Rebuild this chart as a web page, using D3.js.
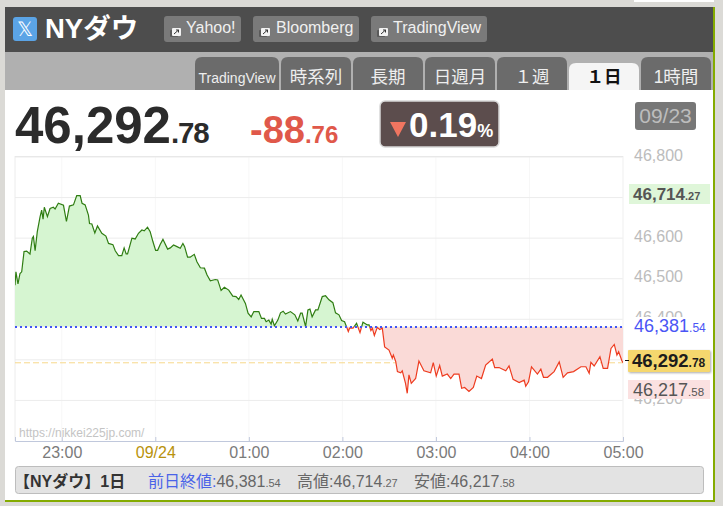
<!DOCTYPE html>
<html><head><meta charset="utf-8">
<script src="https://cdn.jsdelivr.net/npm/d3@7"></script>
<style>html,body{margin:0;padding:0;background:#dbdad6;overflow:hidden}
svg{display:block;font-family:"Liberation Sans","Noto Sans CJK JP",sans-serif}</style>
</head><body><div id="c"></div>
<script>
const minutes=[0,.6,1.9,3.2,4.3,5.8,7.5,9.6,11.1,11.8,12.9,14.3,16.1,17.1,18,18.8,20.8,22.5,24.6,25.7,27.8,31.1,33,34.9,37.5,39.6,41.8,43,45,47.1,47.8,49.3,51.2,52.9,55.7,58.3,60,62.8,64.3,66.4,68.5,70,71.3,72.2,73.5,75,77.1,79.2,81.4,82.9,85,86.7,88.5,90.2,91.5,93.2,94.9,97.9,99.6,101.7,103.9,106,107.7,108.8,110.7,112.4,115,116.7,118.9,121.5,123.2,125.3,128.5,130,132.2,134.3,137.1,139.7,141.8,143.5,145,147.8,149.5,151.5,153.2,156.4,158.1,160,161.1,162.8,164.3,165,166.4,168.6,170.3,172,173.5,176.7,179.5,181.4,183.2,184.2,186.4,187.9,189.2,190.6,192.8,194.3,197.1,199.2,201.4,203.9,205.6,207.8,209.5,211.4,213.8,214.6,216.8,219.1,221.3,223.2,226,227.1,228.3,229.2,230.5,232.4,233.9,235.6,237.1,239.9,242,242.7,244.2,245.3,247.4,248.4,250.5,251.6,252.7,254.2,257,259.1,262.3,266.6,268.3,270.2,272.4,274.1,277.3,279.5,281.6,284.8,286.5,288.4,291.2,294,296.2,299.2,301.9,306.2,307.7,310.5,314.8,316.9,319.5,323.4,326.6,327.6,329.4,331.3,335.1,337.3,339,341.6,345.8,349.1,351.6,354.4,358.3,363,366.2,368.3,369.4,371.5,375.2,377.3,380.1,382.3,384.4,386.1,387.2,389.3,390];
const prices=[46484,46517,46487,46513,46517,46567,46568,46561,46600,46604,46569,46616,46653,46669,46647,46676,46653,46673,46676,46672,46686,46681,46641,46679,46682,46705,46705,46686,46682,46657,46636,46635,46613,46630,46612,46605,46587,46584,46569,46557,46557,46576,46561,46561,46579,46600,46598,46612,46620,46618,46627,46616,46591,46570,46570,46585,46597,46573,46576,46583,46579,46575,46587,46579,46553,46553,46560,46542,46527,46526,46509,46495,46498,46497,46471,46479,46472,46457,46456,46449,46460,46439,46415,46406,46419,46419,46402,46402,46394,46398,46388,46400,46384,46398,46416,46420,46413,46419,46411,46396,46415,46415,46382,46423,46425,46406,46423,46423,46456,46458,46448,46441,46416,46411,46397,46394,46370,46378,46378,46390,46367,46393,46386,46386,46372,46378,46360,46380,46375,46378,46332,46324,46304,46312,46296,46271,46268,46273,46242,46217.58,46263,46242,46254,46297,46273,46268,46293,46260,46286,46260,46265,46254,46265,46265,46230,46232,46222,46232,46260,46254,46287,46302,46281,46281,46273,46285,46252,46244,46250,46235,46246,46283,46265,46277,46257,46257,46271,46295,46257,46268,46271,46283,46283,46267,46294,46285,46308,46279,46279,46328,46338,46312,46320,46298,46292.78];
const prevClose=46381.54, lastPrice=46292.78;
const yTicks=[46200,46300,46400,46500,46600,46700,46800];
const yLabels=[46800,46600,46500,46400,46200];
const xTickMinutes=[30,90,150,210,270,330,390];
const xTickLabels=["23:00","09/24","01:00","02:00","03:00","04:00","05:00"];
const tabs=["TradingView","時系列","長期","日週月","１週","１日","1時間"];
const links=["Yahoo!","Bloomberg","TradingView"];

const W=723,H=506;
const svg=d3.select("#c").append("svg").attr("width",W).attr("height",H);
const BODY='"Liberation Sans","Noto Sans CJK JP",sans-serif';
function rect(x,y,w,h,fill,rx,stroke){const r=svg.append("rect").attr("x",x).attr("y",y).attr("width",w).attr("height",h).attr("fill",fill);if(rx)r.attr("rx",rx);if(stroke)r.attr("stroke",stroke);return r;}
function text(x,y,parts,anchor,parent){
  const t=(parent||svg).append("text").attr("x",x).attr("y",y).attr("text-anchor",anchor||"start");
  parts.forEach(p=>t.append("tspan").text(p[0]).attr("font-size",p[1]).attr("fill",p[2]).attr("font-weight",p[3]||"normal").attr("letter-spacing",p[4]||null));
  return t;}
const fmt=d3.format(",");
function priceParts(v,s1,s2,c,w,c2){const [a,b]=v.toFixed(2).split(".");return [[fmt(+a),s1,c,w],["."+b,s2,c2||c,w]];}

// page panels
rect(0,0,W,H,"#dbdad6");
rect(634,0,80,2,"#ffffff");
rect(5,7,710,495,"#84ab00");
rect(5,7,708,493,"#ffffff");
rect(5,7,708,45,"#4d4d4d");
rect(5,52,708,38,"#b0b0b0");

// header
rect(13,17,24,24,"#5ba4e6",3);
text(25,36,[["𝕏",20,"#ffffff"]],"middle");
text(45,38,[["NYダウ",27.5,"#ffffff","bold"]]);
const linkX=[[164,77,186],[253,106,276],[371,116,393]];
links.forEach((l,i)=>{
  const [x,w,tx]=linkX[i];
  rect(x,16,w,26,"#7a7a7a",3);
  rect(x+6,30,8,7,"#5a5a5a",1);
  rect(x+8,28,9,8,"#f2f2f2",1);
  svg.append("path").attr("d",`M${x+10},34L${x+14.5},30M${x+12},30H${x+14.5}V32.5`).attr("fill","none").attr("stroke","#333").attr("stroke-width",1);
  text(tx,33,[[l,16,"#f0f0f0"]]);
});

// tabs
const tabX=[[195,84],[281,70],[353,70],[425,70],[497,70],[569,70],[641,70]];
tabs.forEach((l,i)=>{
  const [x,w]=tabX[i], active=l==="１日", y=active?63:57;
  svg.append("path").attr("d",`M${x},90V${y+7}Q${x},${y} ${x+7},${y}H${x+w-7}Q${x+w},${y} ${x+w},${y+7}V90Z`).attr("fill",active?"#f5f5f5":"#6b6b6b");
  text(x+w/2,82.5,[[l,i===0?14:17.5,active?"#111111":"#eeeeee",active?"bold":"normal"]],"middle");
});

// headline numbers
text(15,143,[["46,292",51,"#2b2b2b","bold"],[".78",29.5,"#2b2b2b","bold",-1.2]]);
text(250,143,[["-88",38,"#e0584a","bold"],[".76",24,"#e0584a","bold"]]);
rect(380,101,119,46,"#5c4d4d",5,"#d8d8d8").attr("stroke-width",1.5);
svg.append("path").attr("d","M390,122H406L398,137Z").attr("fill","#f07560");
text(409,137,[["0.19",35,"#ffffff","bold"],["%",18,"#ffffff","bold"]]);
rect(635,102,61,28,"#777777",3);
text(665.5,123,[["09/23",21,"#bdbdbd"]],"middle");

// chart
const x=d3.scaleLinear().domain([0,390]).range([15,623]);
const y=d3.scaleLinear().domain([46100,46800]).range([441,157]);
const data=minutes.map((m,i)=>({m,p:prices[i]}));
const defs=svg.append("defs");
defs.append("clipPath").attr("id","up").append("rect").attr("x",x(0)).attr("y",y(46800)).attr("width",x(390)-x(0)).attr("height",y(prevClose)-y(46800));
defs.append("clipPath").attr("id","dn").append("rect").attr("x",x(0)).attr("y",y(prevClose)).attr("width",x(390)-x(0)).attr("height",y(46100)-y(prevClose));

const g=svg.append("g");
g.selectAll("line.v").data(xTickMinutes).join("line").attr("x1",d=>x(d)).attr("x2",d=>x(d)).attr("y1",156).attr("y2",441).attr("stroke","#f7f7f7");
g.selectAll("line.h").data(yTicks).join("line").attr("x1",15).attr("x2",623).attr("y1",d=>y(d)).attr("y2",d=>y(d)).attr("stroke","#ececec");
g.append("line").attr("x1",15).attr("x2",15).attr("y1",156).attr("y2",441).attr("stroke","#ececec");
g.append("line").attr("x1",623).attr("x2",623).attr("y1",156).attr("y2",441).attr("stroke","#f3f3f3");
g.append("line").attr("x1",15).attr("x2",623).attr("y1",156.5).attr("y2",156.5).attr("stroke","#e8e8e8");

const area=d3.area().x(d=>x(d.m)).y0(y(prevClose)).y1(d=>y(d.p));
const line=d3.line().x(d=>x(d.m)).y(d=>y(d.p));
g.append("line").attr("x1",15).attr("x2",623).attr("y1",y(lastPrice)).attr("y2",y(lastPrice)).attr("stroke","#f7d98a").attr("stroke-width",1).attr("stroke-dasharray","6 3");
g.append("path").datum(data).attr("d",area).attr("fill","#d6f5d1").attr("clip-path","url(#up)");
g.append("path").datum(data).attr("d",area).attr("fill","#fadad7").attr("clip-path","url(#dn)");
g.append("path").datum(data).attr("d",line).attr("fill","none").attr("stroke","#2f7d12").attr("stroke-width",1.2).attr("clip-path","url(#up)");
g.append("path").datum(data).attr("d",line).attr("fill","none").attr("stroke","#ee3c20").attr("stroke-width",1.2).attr("clip-path","url(#dn)");
g.append("line").attr("x1",15).attr("x2",623).attr("y1",Math.round(y(prevClose))).attr("y2",Math.round(y(prevClose))).attr("stroke","#3f55f5").attr("stroke-width",2).attr("stroke-dasharray","2 3");
text(19,437,[["https://nikkei225jp.com/",12,"#c4c4c4"]]);

// axes
const xAxis=d3.axisBottom(x).tickValues(xTickMinutes).tickSize(-4).tickPadding(6).tickFormat((d,i)=>xTickLabels[i]);
const gx=svg.append("g").attr("transform","translate(0,441)").call(xAxis);
gx.select(".domain").attr("stroke","#c0c8dc");
gx.selectAll("line").attr("stroke","#c0c8dc");
gx.selectAll("text").attr("font-size",16).attr("font-family",BODY).attr("fill",(d,i)=>i===1?"#b8920c":"#7a7a7a");
const yAxis=d3.axisRight(y).tickValues(yLabels).tickSize(0).tickPadding(11).tickFormat(fmt);
const gy=svg.append("g").attr("transform","translate(623,0)").call(yAxis);
gy.select(".domain").remove();
gy.selectAll("text").attr("font-size",16).attr("font-family",BODY).attr("fill","#bcbcbc").attr("dy","0.2em");

// price flags
const high=46714.27, low=46217.58;
rect(629,184,81,20,"#dff6d9");
text(633,200,priceParts(high,17,11,"#555555","bold"));
rect(630,317,82,19,"#ffffff");
text(634,332,priceParts(prevClose,18,12,"#4a55f5"));
rect(628,350,82,22,"#f5d76e",1).style("filter","drop-shadow(1px 1px 1px #aaa)");
svg.append("line").attr("x1",625).attr("x2",629).attr("y1",360.5).attr("y2",360.5).attr("stroke","#111");
text(632,367,priceParts(lastPrice,18.5,12,"#1c1c1c","bold"));
rect(628,380,82,19,"#fbe1e1");
text(633,396,priceParts(low,18,11.5,"#555555"));

// footer bar
rect(15.5,466.5,688,27,"#e3e3e3",3,"#bdbdbd");
text(14,487,[["【NYダウ】1日",16,"#333333","bold"]]);
text(148,487,[["前日終値:",16,"#4a63e8"]].concat(priceParts(prevClose,16,11,"#666666")));
text(297,487,[["高値:",16,"#666666"]].concat(priceParts(high,16,11,"#666666")));
text(414,487,[["安値:",16,"#666666"]].concat(priceParts(low,16,11,"#666666")));
</script></body></html>
